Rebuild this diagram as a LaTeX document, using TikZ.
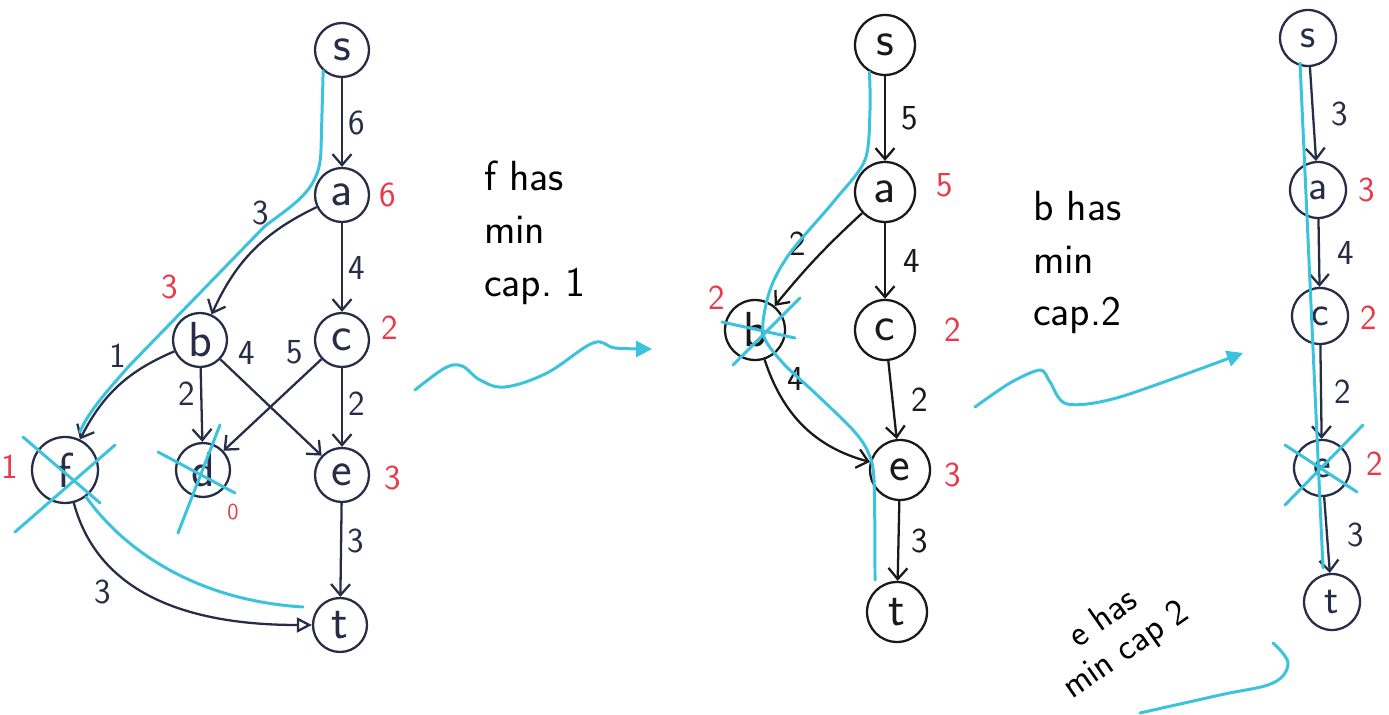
\documentclass[tikz,border=0pt]{standalone}
\usepackage{xcolor}
\usetikzlibrary{arrows.meta,positioning}

\definecolor{ink}{HTML}{272C47}
\definecolor{hlblue}{HTML}{3BC3DD}
\definecolor{capred}{HTML}{E73A4B}

\begin{document}
\begin{tikzpicture}[x=0.02cm,y=0.02cm,line width=1.3pt,
    >={Straight Barb[length=2.2mm,width=3.8mm]}]
  \tikzstyle{vertex}=[circle,draw,minimum size=1.08cm,inner sep=0pt,font=\sffamily\fontsize{28}{28}\selectfont]
  \tikzstyle{w}=[font=\sffamily\fontsize{20}{20}\selectfont,inner sep=3pt]
  \tikzstyle{resid}=[w,text=capred]
  \tikzstyle{hl}=[draw=hlblue,line width=1.7pt,line cap=round,line join=round]
  \tikzstyle{note}=[font=\sffamily\fontsize{24}{30}\selectfont,align=left,inner sep=0pt]

  \useasboundingbox (0,0) rectangle (1389,-715);

  % first network
  \begin{scope}[ink]
  \foreach \name/\x/\y in {s/342/50, a/342/195, b/200/340, c/342/340, d/203/470, e/342/475, t/340/625}
    \node[vertex] (G1-\name) at (\x,-\y) {\name};
  \node[vertex,minimum size=1.32cm] (G1-f) at (65,-470) {f};

  \foreach \from/\to/\w/\p/\where in {s/a/6/.5/right, a/c/4/.5/right, c/e/2/.45/right, e/t/3/.4/right,
      b/d/2/.35/left, b/e/4/.12/above right, c/d/5/.12/above left}
    \draw[->] (G1-\from) -- node[w,pos=\p,\where] {\w} (G1-\to);
  \draw[->] (G1-a) to[bend right=20] node[w,pos=.3,above left] {3} (G1-b);
  \draw[->] (G1-b) to[bend right=20] node[w,pos=.35,above left] {1} (G1-f);
  \draw[-{Triangle[open,length=3mm,width=3mm]}] (G1-f) to[out=-75,in=180] node[w,pos=.3,below left] {3} (G1-t);

  \foreach \name/\v/\x/\y in {a/6/388/195, b/3/170/287, c/2/390/328, f/1/10/467, e/3/393/478}
    \node[resid] (G1-cap-\name) at (\x,-\y) {\v};
  \node[resid,font=\sffamily\fontsize{13}{13}\selectfont] (G1-cap-d) at (233,-512) {0};
  \end{scope}

  % path taken and cut nodes
  \draw[hl] (G1-s.228) -- (321,-150) .. controls (320,-188) and (300,-200) .. (265,-226)
    -- (130,-365) .. controls (108,-390) and (88,-412) .. (80,-432);
  \draw[hl] (G1-f.-52) .. controls (120,-545) and (190,-600) .. (303,-607);
  \draw[hl] (23,-437) -- (100,-503);
  \draw[hl] (15,-532) -- (115,-445);
  \draw[hl] (158,-452) -- (235,-493);
  \draw[hl] (220,-425) -- (178,-533);

  % second network
  \begin{scope}[black!90]
  \foreach \name/\x/\y in {s/885/45, a/885/192, b/755/330, c/885/330, e/900/470, t/897/612}
    \node[vertex,minimum size=1.2cm] (G2-\name) at (\x,-\y) {\name};
  \foreach \from/\to/\w/\dx in {s/a/5/6, a/c/4/7, c/e/2/7, e/t/3/4}
    \draw[->] (G2-\from) -- node[w,right=\dx pt] {\w} (G2-\to);
  \draw[->] (G2-a) to[bend right=4] node[w,pos=.55,above left] {2} (G2-b);
  \draw[->] (G2-b) to[out=-72,in=165] node[w,pos=.25,above right] {4} (G2-e);

  \foreach \name/\v/\x/\y in {a/5/945/185, b/2/717/298, c/2/953/330, e/3/953/475}
    \node[resid] (G2-cap-\name) at (\x,-\y) {\v};
  \end{scope}

  \draw[hl] plot[smooth,tension=.5] coordinates {(G2-s.240) (870,-110) (865,-160) (835,-200) (790,-253) (770,-290) (763,-333) (782,-362) (815,-393) (853,-430) (868,-452) (874,-480) (875,-580)};
  \draw[hl] (722,-322) -- (795,-338);
  \draw[hl] (733,-365) -- (800,-298);

  % third network
  \begin{scope}[ink]
  \foreach \name/\x/\y in {s/1308/38, a/1318/190, c/1320/316, e/1322/468, t/1332/602}
    \node[vertex,minimum size=1.12cm,font=\sffamily\fontsize{24}{24}\selectfont] (G3-\name) at (\x,-\y) {\name};
  \foreach \from/\to/\w/\dx in {s/a/3/7, a/c/4/7, c/e/2/4, e/t/3/8}
    \draw[->] (G3-\from) -- node[w,right=\dx pt] {\w} (G3-\to);

  \foreach \name/\v/\x/\y in {a/3/1367/190, c/2/1369/318, e/2/1375/464}
    \node[resid] (G3-cap-\name) at (\x,-\y) {\v};
  \end{scope}

  \draw[hl] (1300,-63) -- (1323,-568);
  \draw[hl] (1285,-445) -- (1357,-492);
  \draw[hl] (1285,-505) -- (1363,-425);

  % notes between the steps
  \node[note,anchor=north west] (note1) at (483,-160) {f has\\min\\cap.\ 1};
  \node[note,anchor=north west] (note2) at (1032,-190) {b has\\min\\cap.2};
  \node[note,rotate=35,align=center,font=\sffamily\fontsize{21}{22}\selectfont] (note3) at (1115,-635) {e has\\min cap 2};

  \draw[hl,-{Triangle[length=3.2mm,width=3.2mm]}] plot[smooth,tension=.6] coordinates {(415,-390) (445,-368) (462,-366) (480,-380) (505,-387) (547,-373) (593,-343) (615,-348) (652,-349)};
  \draw[hl,-{Triangle[length=3.2mm,width=3.2mm]}] plot[smooth,tension=.5] coordinates {(975,-407) (1010,-383) (1040,-370) (1050,-382) (1067,-404) (1120,-397) (1243,-353)};
  \draw[hl] plot[smooth,tension=.6] coordinates {(1140,-713) (1220,-695) (1273,-683) (1288,-663) (1273,-643)};
\end{tikzpicture}
\end{document}
